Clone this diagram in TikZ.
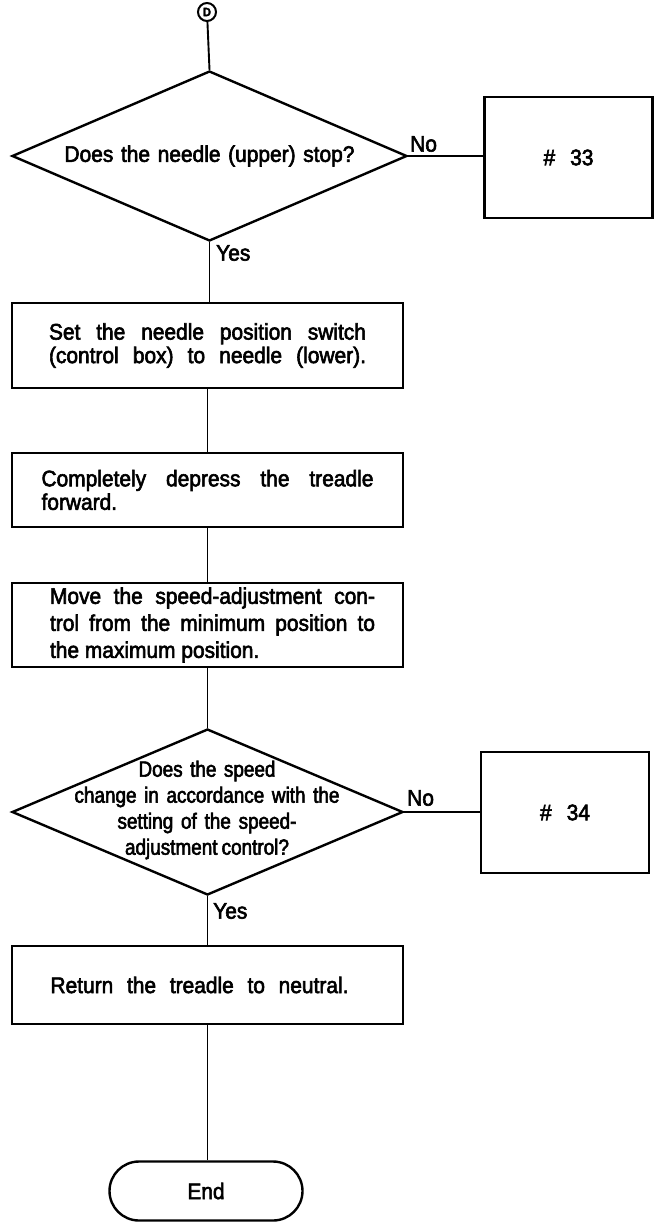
\documentclass[tikz,border=0pt]{standalone}
\usepackage{fontspec}
\setmainfont{Liberation Sans}[FakeBold=2.6,FakeStretch=0.93]
\newfontfamily\condfont{Liberation Sans}[FakeBold=2.6,FakeStretch=0.86]
\usetikzlibrary{shapes.geometric,shapes.misc}
\newcommand{\sline}[2]{\makebox[#1][s]{#2}}
\newcommand{\lline}[2]{\makebox[#1][l]{#2}}
\begin{document}
\begin{tikzpicture}[x=1pt,y=-1pt,
  font=\fontsize{22.5}{23.5}\selectfont,
  conn/.style={line width=1.9pt},
  stepbox/.style={draw,rectangle,line width=2.4pt,inner sep=0pt,minimum width=391pt,align=center},
  refbox/.style={draw,rectangle,line width=2.4pt,inner sep=0pt,minimum width=168pt,minimum height=121pt},
  decision/.style={draw,diamond,line width=2.4pt,inner sep=0pt,aspect=2.32,align=center},
  lbl/.style={inner sep=0pt}]
\useasboundingbox (0,0) rectangle (660,1223);
% start connector
\node[draw,circle,line width=2pt,minimum size=18pt,inner sep=0pt,font=\fontsize{12}{12}\selectfont\bfseries] (cD) at (207,12) {D};
% decision 1
\node[decision,minimum width=395pt,minimum height=170pt] (d1) at (209.5,156) {\sline{290pt}{Does the needle (upper) stop?}};
\node[refbox] (b33) at (568.5,157.5) {\sline{50pt}{\# 33}};
% steps
\node[stepbox,minimum height=85pt] (b1) at (207.5,345.5) {\sline{317pt}{Set the needle position switch}\hspace{12pt}\\\sline{317pt}{(control box) to needle (lower).}\hspace{12pt}};
\node[stepbox,minimum height=74pt] (b2) at (207.5,490) {\sline{332pt}{Completely depress the treadle}\\\lline{332pt}{forward.}};
\node[stepbox,minimum height=84pt,font=\fontsize{22.5}{27}\selectfont] (b3) at (207.5,625) {\hspace{10pt}\sline{325pt}{Move the speed-adjustment con-}\\\hspace{10pt}\sline{325pt}{trol from the minimum position to}\\\hspace{10pt}\lline{325pt}{the maximum position.}};
% decision 2
\node[decision,minimum width=391pt,minimum height=166pt] (d2) at (207.5,812) {};
\node[align=center,inner sep=0pt,font=\condfont\fontsize{22}{26}\selectfont] (t2) at (207,810) {\sline{137pt}{Does the speed}\\\sline{265pt}{change in accordance with the}\\\sline{179pt}{setting of the speed-}\\\sline{164pt}{adjustment control?}};
\node[refbox] (b34) at (565,812.5) {\sline{50pt}{\# 34}};
\node[stepbox,minimum height=78pt] (b4) at (207.5,985) {\sline{298pt}{Return the treadle to neutral.}\hspace{16pt}};
% terminator
\node[draw,rounded rectangle,line width=2.4pt,minimum width=193pt,minimum height=59pt,inner sep=0pt] (end) at (206,1191) {End};
% connectors
\draw[conn] (cD) -- (d1.north);
\draw[conn] (d1.east) -- (d1.east -| b33.west);
\draw[conn] (d1.south) -- (d1.south |- b1.north);
\draw[conn] (b1.south) -- (b2.north);
\draw[conn] (b2.south) -- (b3.north);
\draw[conn] (b3.south) -- (d2.north);
\draw[conn] (d2.east) -- (d2.east -| b34.west);
\draw[conn] (d2.south) -- (b4.north);
\draw[conn] (b4.south) -- (b4.south |- end.north);
% labels
\node[lbl,anchor=south west] (no1) at (410,152) {No};
\node[lbl,anchor=south west] (no2) at (407,806) {No};
\node[lbl,anchor=west] (yes1) at (216,253) {Yes};
\node[lbl,anchor=west] (yes2) at (213,911) {Yes};
\end{tikzpicture}
\end{document}
